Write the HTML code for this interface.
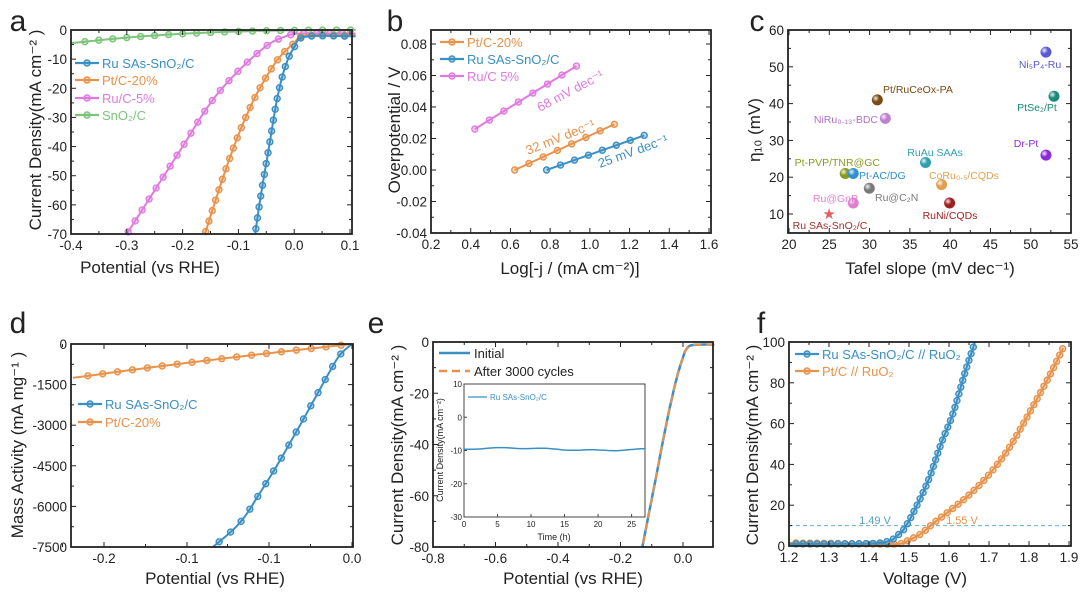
<!DOCTYPE html>
<html><head><meta charset="utf-8"><style>
html,body{margin:0;padding:0;background:#fff}
svg{display:block;font-family:"Liberation Sans",Arial,sans-serif}
</style></head><body>
<svg id="s" width="1080" height="598" viewBox="0 0 1080 598" xmlns="http://www.w3.org/2000/svg">
<defs>
<radialGradient id="sg" cx="35%" cy="35%" r="65%"><stop offset="0" stop-color="#fff" stop-opacity="0.9"/><stop offset="0.5" stop-color="#fff" stop-opacity="0"/></radialGradient>
</defs>
</svg>
<script>
const S=document.getElementById('s');const NS='http://www.w3.org/2000/svg';
function el(t,a,txt){const e=document.createElementNS(NS,t);for(const k in a)e.setAttribute(k,a[k]);if(txt!==undefined)e.textContent=txt;S.appendChild(e);return e;}
function txt(x,y,s,o){o=o||{};const a={x:x,y:y,'font-size':o.fs||13,fill:o.fill||'#222','text-anchor':o.anchor||'middle'};if(o.rot)a.transform='rotate(-90 '+x+' '+y+')';if(o.fw)a['font-weight']=o.fw;return el('text',a,s);}
function frame(x0,y0,x1,y1){el('rect',{x:x0,y:y0,width:x1-x0,height:y1-y0,fill:'none',stroke:'#222','stroke-width':1.8});}
function xticks(x0,x1,y0,y1,vals,lbl,minor){vals.forEach((v,i)=>{const x=x0+(x1-x0)*i/(vals.length-1);el('line',{x1:x,y1:y1,x2:x,y2:y1-5,stroke:'#222'});el('line',{x1:x,y1:y0,x2:x,y2:y0+5,stroke:'#222'});txt(x,y1+16,lbl?lbl[i]:v,{fs:13.5});if(minor&&i<vals.length-1){const xm=x+(x1-x0)/(vals.length-1)/2;el('line',{x1:xm,y1:y1,x2:xm,y2:y1-3,stroke:'#222'});el('line',{x1:xm,y1:y0,x2:xm,y2:y0+3,stroke:'#222'});}});}
function yticks(x0,x1,yTop,yBot,lbls,minor){const n=lbls.length;lbls.forEach((v,i)=>{const y=yTop+(yBot-yTop)*i/(n-1);el('line',{x1:x0,y1:y,x2:x0+5,y2:y,stroke:'#222'});el('line',{x1:x1,y1:y,x2:x1-5,y2:y,stroke:'#222'});txt(x0-4,y+5,v,{fs:13.5,anchor:'end'});if(minor&&i<n-1){const ym=y+(yBot-yTop)/(n-1)/2;el('line',{x1:x0,y1:ym,x2:x0+3,y2:ym,stroke:'#222'});el('line',{x1:x1,y1:ym,x2:x1-3,y2:ym,stroke:'#222'});}});}
function mk(cx,cy,col){el('circle',{cx:cx,cy:cy,r:3,fill:col,'fill-opacity':0.35,stroke:col,'stroke-width':1.4});}
function series(pts,col,step,opts){opts=opts||{};const d='M'+pts.map(p=>p[0].toFixed(1)+','+p[1].toFixed(1)).join('L');const a={d:d,fill:'none',stroke:col,'stroke-width':opts.w||2};if(opts.dash)a['stroke-dasharray']=opts.dash;el('path',a);if(!step)return;let acc=step;for(let i=1;i<pts.length;i++){const[ax,ay]=pts[i-1],[bx,by]=pts[i];const L=Math.hypot(bx-ax,by-ay);let t=0;while(acc<=L-t+1e-9&&L>0){t+=acc;const f=t/L;mk(ax+(bx-ax)*f,ay+(by-ay)*f,col);acc=step;}acc-=(L-t);}}
function interp(data,n){const out=[];for(let i=0;i<data.length-1;i++){for(let k=0;k<n;k++){const f=k/n;const a=data[i],b=data[i+1],p=data[Math.max(0,i-1)],q=data[Math.min(data.length-1,i+2)];
const f2=f*f,f3=f2*f;const c=(j)=>0.5*((2*a[j])+(-p[j]+b[j])*f+(2*p[j]-5*a[j]+4*b[j]-q[j])*f2+(-p[j]+3*a[j]-3*b[j]+q[j])*f3);out.push([c(0),c(1)]);}}out.push(data[data.length-1]);return out;}
function legend(x,y,col,label,opts){opts=opts||{};const a={x1:x,y1:y,x2:x+24,y2:y,stroke:col,'stroke-width':2.2};if(opts.dash)a['stroke-dasharray']=opts.dash;el('line',a);if(!opts.nomark)mk(x+12,y,col);txt(x+27,y+5,label,{fs:opts.fs||13,fill:opts.tc||col,anchor:'start'});}
const BL='#3a8fc4',OR='#e8924a',PK='#e07ae0',GR='#7cc47c';
const TF=17;

// ===== a =====
{const X=v=>71+(v+0.4)/0.5*279,Y=v=>30+(-v)/70*204;
const m=d=>interp(d,6).map(p=>[X(p[0]),Y(p[1])]);
series(m([[-0.4,-4.5],[-0.3,-2.6],[-0.2,-1.3],[-0.1,-0.5],[0,-0.1],[0.11,0]]),GR,14);
series(m([[0.11,-1.2],[0.02,-1.2],[0,-1.4],[-0.02,-2.5],[-0.05,-5.5],[-0.1,-14],[-0.15,-25],[-0.2,-40],[-0.25,-55],[-0.3,-70]]),PK,13);
series(m([[0.11,-1.8],[0.02,-2],[0.0,-4.5],[-0.02,-8],[-0.04,-13],[-0.07,-23],[-0.1,-36],[-0.13,-52],[-0.16,-70]]),OR,11);
series(m([[0.11,-2.2],[0.02,-2.3],[0.0,-6],[-0.015,-12],[-0.03,-23],[-0.045,-40],[-0.06,-57],[-0.07,-70]]),BL,11);
frame(71,30,352,234);
xticks(71,350,30,234,['-0.4','-0.3','-0.2','-0.1','0.0','0.1'],null,true);
yticks(71,352,30,234,['0','-10','-20','-30','-40','-50','-60','-70'],true);
legend(75,63,BL,'Ru SAs-SnO₂/C');legend(75,80,OR,'Pt/C-20%');legend(75,98,PK,'Ru/C-5%');legend(75,115,GR,'SnO₂/C');
txt(150,273,'Potential (vs RHE)',{fs:TF});txt(41,130,'Current Density(mA cm⁻² )',{fs:TF,rot:1});
txt(18,31,'a',{fs:30});}

// ===== b =====
{const X=v=>431+(v-0.2)/1.4*279,Y=v=>44+(0.08-v)/0.12*189;
const ln=(a,b,col)=>{const pts=[];for(let i=0;i<=7;i++){const f=i/7;pts.push([X(a[0]+(b[0]-a[0])*f),Y(a[1]+(b[1]-a[1])*f)]);}series(pts,col,0);pts.forEach(p=>mk(p[0],p[1],col));};
ln([0.42,0.026],[0.93,0.066],PK);ln([0.62,0],[1.12,0.029],OR);ln([0.78,0],[1.27,0.022],BL);
frame(431,30,711,233);
xticks(431,709,30,233,['0.2','0.4','0.6','0.8','1.0','1.2','1.4','1.6'],null,true);
yticks(431,711,44,233,['0.08','0.06','0.04','0.02','0.00','-0.02','-0.04'],true);
legend(440,42,OR,'Pt/C-20%');legend(440,59,BL,'Ru SAs-SnO₂/C');legend(440,76,PK,'Ru/C 5%');
el('text',{x:540,y:112,'font-size':13,fill:PK,transform:'rotate(-28 540 112)'},'68 mV dec⁻¹');
el('text',{x:528,y:155,'font-size':13,fill:OR,transform:'rotate(-22 528 155)'},'32 mV dec⁻¹');
el('text',{x:600,y:168,'font-size':13,fill:BL,transform:'rotate(-20 600 168)'},'25 mV dec⁻¹');
txt(570,274,'Log[-j / (mA cm⁻²)]',{fs:TF});txt(400,130,'Overpotential / V',{fs:TF,rot:1});
txt(395,31,'b',{fs:30});}

// ===== c =====
{const X=v=>789+(v-20)*8.03,Y=v=>30+(60-v)*3.68;
frame(788,30,1071,233);
xticks(789,1071,30,233,['20','25','30','35','40','45','50','55'],null,true);
yticks(788,1071,30,214,['60','50','40','30','20','10'],true);
const P=[[52,54,'#5a5ad8','Ni₅P₄-Ru',1040,68,'middle','#5a5ad8'],
[53,42,'#1a8a78','PtSe₂/Pt',1037,111,'middle','#1a8a78'],
[52,26,'#8a2ad8','Dr-Pt',1026,147,'middle','#8a2ad8'],
[31,41,'#7a4a10','Pt/RuCeOx-PA',883,93,'start','#7a4a10'],
[32,36,'#c080d0','NiRu₀.₁₃-BDC',878,123,'end','#b070c8'],
[37,24,'#30a0b0','RuAu SAAs',935,156,'middle','#30a0b0'],
[27,21,'#8a9a20','Pt-PVP/TNR@GC',880,166,'end','#8a9a20'],
[28,21,'#3090d0','Pt-AC/DG',859,179,'start','#3090d0'],
[39,18,'#e0a050','CoRu₀.₅/CQDs',929,179,'start','#e0a050'],
[30,17,'#7a7a7a','Ru@C₂N',875,201,'start','#7a7a7a'],
[28,13,'#e080d0','Ru@GnP',858,202,'end','#e080d0'],
[40,13,'#a02020','RuNi/CQDs',950,219,'middle','#a02020']];
P.forEach(p=>{const cx=X(p[0]),cy=Y(p[1]);el('circle',{cx:cx,cy:cy,r:5.5,fill:p[2]});el('circle',{cx:cx,cy:cy,r:5.5,fill:'url(#sg)'});txt(p[4],p[5],p[3],{fs:10.5,fill:p[7],anchor:p[6]});});
el('text',{x:X(25),y:Y(10)+5,'font-size':15,fill:'#e06060','text-anchor':'middle'},'★');
txt(830,229,'Ru SAs-SnO₂/C',{fs:10.5,fill:'#a03030'});
txt(930,274,'Tafel slope (mV dec⁻¹)',{fs:TF});txt(760,130,'η₁₀ (mV)',{fs:TF,rot:1});
txt(757,31,'c',{fs:30});}

// ===== d =====
{const Y=v=>344+(-v)/7500*203;
series(interp([[73,-1250],[150,-870],[250,-420],[352,0]],10).map(p=>[p[0],Y(p[1])]),OR,15);
series(interp([[352,0],[340,-400],[330,-1000],[318,-1800],[300,-3000],[280,-4300],[260,-5500],[240,-6600],[213,-7500]],6).map(p=>[p[0],Y(p[1])]),BL,15);
frame(71,344,353,547);
[104,187,269,352].forEach((x,i)=>{el('line',{x1:x,y1:547,x2:x,y2:542,stroke:'#222'});el('line',{x1:x,y1:344,x2:x,y2:349,stroke:'#222'});txt(x,563,['-0.2','-0.1','-0.1','0.0'][i],{fs:13.5});const xm=x-41.5;el('line',{x1:xm,y1:547,x2:xm,y2:544,stroke:'#222'});el('line',{x1:xm,y1:344,x2:xm,y2:347,stroke:'#222'});});
yticks(71,353,344,547,['0','-1500','-3000','-4500','-6000','-7500'],true);
legend(78,404,BL,'Ru SAs-SnO₂/C');legend(78,422,OR,'Pt/C-20%');
txt(215,584,'Potential (vs RHE)',{fs:TF});txt(23,445,'Mass Activity (mA mg⁻¹ )',{fs:TF,rot:1});
txt(18,333,'d',{fs:30});}

// ===== e =====
{const X=v=>433+(v+0.8)/0.8*250,Y=v=>342+(-v)/80*205;
const c=interp([[0.1,-1],[0.03,-1.2],[0.01,-3],[0,-6],[-0.02,-14],[-0.05,-30],[-0.09,-55],[-0.13,-80]],8).map(p=>[X(p[0]),Y(p[1])]);
series(c,BL,0,{w:2.5});series(c,OR,0,{w:2,dash:'8,5'});
frame(433,342,713,547);
xticks(433,683,342,547,['-0.8','-0.6','-0.4','-0.2','0.0'],null,true);
yticks(433,713,342,547,['0','-20','-40','-60','-80'],true);
el('line',{x1:439,y1:353,x2:470,y2:353,stroke:BL,'stroke-width':2.5});txt(474,358,'Initial',{fs:13,anchor:'start'});
el('line',{x1:439,y1:371,x2:470,y2:371,stroke:OR,'stroke-width':2.5,'stroke-dasharray':'8,5'});txt(474,376,'After 3000 cycles',{fs:13,anchor:'start'});
el('rect',{x:464,y:384,width:181,height:133,fill:'#fff',stroke:'#444','stroke-width':1});
const iX=v=>464+v/27*181,iY=v=>384+(10-v)/40*133;
[0,5,10,15,20,25].forEach(v=>{el('line',{x1:iX(v),y1:517,x2:iX(v),y2:514,stroke:'#444'});txt(iX(v),527,v,{fs:8});});
[[10,'10'],[0,'0'],[-10,'-10'],[-20,'-20'],[-30,'-30']].forEach(a=>{el('line',{x1:464,y1:iY(a[0]),x2:467,y2:iY(a[0]),stroke:'#444'});txt(462,iY(a[0])+3,a[1],{fs:8,anchor:'end'});});
const w=[];for(let t=0;t<=27;t+=0.5){w.push([iX(t),iY(-9.6+0.35*Math.sin(t/27*6.28)-0.15*Math.sin(t*0.9))]);}
series(w,BL,0,{w:1.5});
el('line',{x1:468,y1:397,x2:487,y2:397,stroke:BL,'stroke-width':1.2});txt(490,400,'Ru SAs-SnO₂/C',{fs:8,fill:BL,anchor:'start'});
txt(554,540,'Time (h)',{fs:9});txt(443,450,'Current Density(mA cm⁻²)',{fs:9,rot:1});
txt(573,584,'Potential (vs RHE)',{fs:TF});txt(403,445,'Current Density(mA cm⁻² )',{fs:TF,rot:1});
txt(376,333,'e',{fs:30});}

// ===== f =====
{const X=v=>789+(v-1.2)/0.7*280,Y=v=>546+(-v)/100*204;
el('line',{x1:789,y1:Y(10),x2:1071,y2:Y(10),stroke:'#6ab0c8','stroke-width':1,'stroke-dasharray':'4,3'});
series(interp([[1.2,1.5],[1.35,1.2],[1.47,1],[1.5,3],[1.53,6],[1.56,11],[1.6,17],[1.65,25],[1.7,35],[1.75,48],[1.8,65],[1.85,83],[1.885,97]],8).map(p=>[X(p[0]),Y(p[1])]),OR,7);
series(interp([[1.2,1],[1.4,1.2],[1.45,2.5],[1.47,5],[1.49,9],[1.52,20],[1.55,33],[1.58,50],[1.61,65],[1.64,85],[1.665,100]],8).map(p=>[X(p[0]),Y(p[1])]),BL,7);
frame(789,342,1071,546);
xticks(789,1069,342,546,['1.2','1.3','1.4','1.5','1.6','1.7','1.8','1.9'],null,true);
yticks(789,1071,342,546,['100','80','60','40','20','0'],true);
legend(795,354,BL,'Ru SAs-SnO₂/C // RuO₂',{tc:'#3a8fc4'});legend(795,371,OR,'Pt/C // RuO₂');
txt(875,524,'1.49 V',{fs:11,fill:'#5aa0c0'});txt(962,524,'1.55 V',{fs:11,fill:OR});
txt(925,584,'Voltage (V)',{fs:TF});txt(758,445,'Current Density(mA cm⁻² )',{fs:TF,rot:1});
txt(761,333,'f',{fs:30});}
</script>
</body></html>
